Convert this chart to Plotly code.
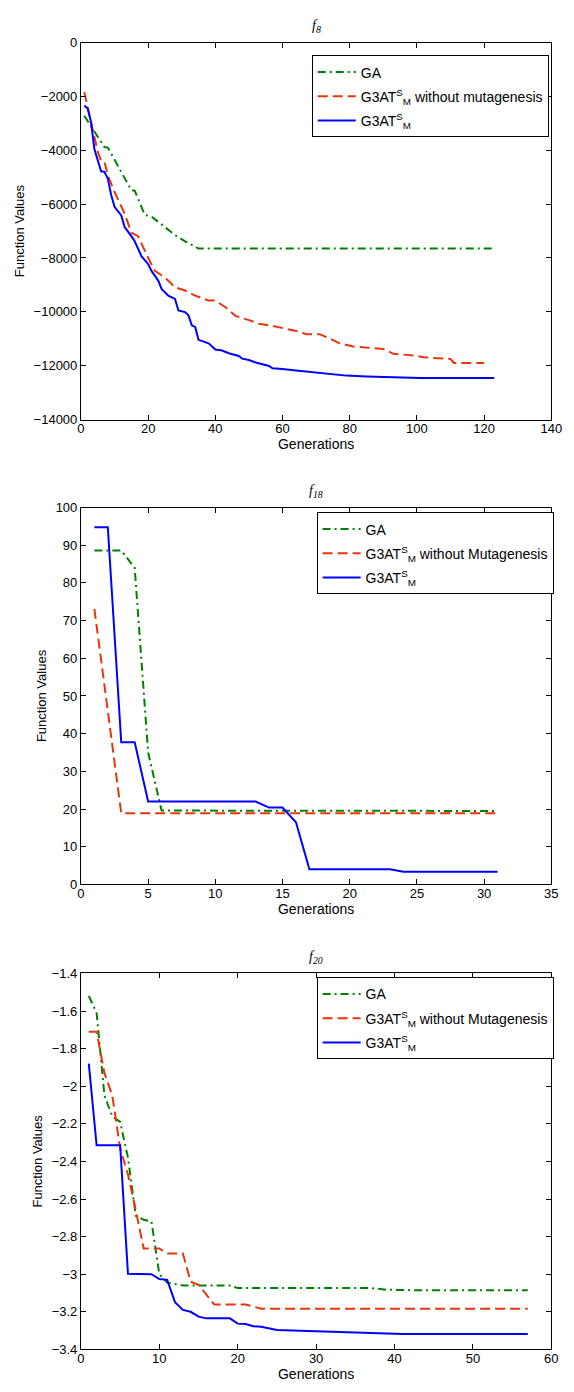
import plotly.graph_objects as go

# ---------------- data ----------------
# f8
f8_ga_x = [1, 7, 8, 15, 16, 19, 21, 24, 28, 31, 35, 123]
f8_ga_y = [-2720, -3880, -3900, -5480, -5500, -6400, -6460, -6760, -7150, -7380, -7650, -7650]

f8_nomut_x = [1, 2, 3, 5, 6, 7, 8, 10, 12, 13, 15, 17, 20, 22, 25, 28, 31, 34, 38, 40, 43, 46, 50,
              53, 57, 62, 65, 67, 71, 74, 77, 81, 90, 93, 99, 102, 107, 110, 111, 120]
f8_nomut_y = [-1840, -2350, -2950, -4050, -4400, -4430, -4930, -5550, -6100, -6350, -7060, -7190,
              -7990, -8480, -8720, -9090, -9210, -9400, -9580, -9580, -9830, -10150, -10310,
              -10440, -10520, -10640, -10740, -10830, -10830, -10990, -11170, -11290, -11380,
              -11560, -11620, -11690, -11710, -11750, -11900, -11900]

f8_g3_x = [1, 2, 3, 4, 5, 6, 7, 8, 9, 10, 12, 13, 15, 16, 18, 20, 21, 23, 24, 26, 28, 29, 31, 32,
           33, 34, 35, 37, 38, 40, 42, 44, 47, 48, 50, 52, 54, 56, 57, 60, 64, 69, 74, 79, 85,
           93, 101, 123]
f8_g3_y = [-2340, -2450, -2950, -3950, -4370, -4780, -4800, -5050, -5660, -6100, -6420, -6850,
           -7190, -7380, -7930, -8230, -8480, -8840, -9150, -9400, -9520, -9950, -10010, -10130,
           -10500, -10560, -11040, -11110, -11170, -11400, -11440, -11540, -11640, -11740,
           -11790, -11880, -11940, -12010, -12100, -12120, -12180, -12240, -12300, -12370,
           -12400, -12430, -12460, -12460]

# f18
f18_ga_x = [1, 2, 3, 4, 5, 6, 31]
f18_ga_y = [88.6, 88.6, 88.6, 84.0, 35.0, 19.6, 19.5]

f18_nomut_x = [1, 2, 3, 31]
f18_nomut_y = [73.1, 46.0, 18.9, 18.9]

f18_g3_x = [1, 2, 3, 4, 5, 13, 14, 15, 16, 17, 23, 24, 31]
f18_g3_y = [94.8, 94.8, 37.7, 37.7, 22.0, 22.0, 20.4, 20.4, 16.5, 4.0, 4.0, 3.4, 3.4]

# f20
f20_ga_x = [1, 2, 3, 4, 5, 6, 7, 8, 9, 10, 11, 13, 19, 20, 37, 39, 44, 57]
f20_ga_y = [-1.52, -1.61, -2.05, -2.16, -2.19, -2.38, -2.69, -2.71, -2.72, -3.00, -3.045,
            -3.06, -3.06, -3.074, -3.074, -3.083, -3.086, -3.086]

f20_nomut_x = [1, 2, 3, 4, 5, 6, 7, 8, 10, 11, 13, 14, 15, 17, 21, 23, 57]
f20_nomut_y = [-1.71, -1.71, -1.93, -2.05, -2.33, -2.47, -2.66, -2.863, -2.863, -2.89, -2.89,
               -3.04, -3.056, -3.161, -3.161, -3.184, -3.184]

f20_g3_x = [1, 2, 5, 6, 9, 10, 11, 12, 13, 14, 15, 16, 19, 20, 21, 22, 23, 24, 25, 27, 35, 41, 57]
f20_g3_y = [-1.88, -2.314, -2.314, -2.998, -3.0, -3.026, -3.03, -3.149, -3.19, -3.2, -3.226,
            -3.235, -3.235, -3.263, -3.265, -3.277, -3.28, -3.29, -3.297, -3.30, -3.31, -3.318,
            -3.318]

titles = ["f", "f", "f"]
title_subs = ["8", "18", "20"]
name_ga = "GA"
names_nomut = ["G3AT<sup>S</sup><sub>M</sub> without mutagenesis",
               "G3AT<sup>S</sup><sub>M</sub> without Mutagenesis",
               "G3AT<sup>S</sup><sub>M</sub> without Mutagenesis"]
name_g3 = "G3AT<sup>S</sup><sub>M</sub>"

x_ranges = [[0, 140], [0, 35], [0, 60]]
x_dticks = [20, 5, 10]
y_ranges = [[-14000, 0], [0, 100], [-3.4, -1.4]]
y_dticks = [2000, 10, 0.2]
y_formats = ["d", "", ""]

# ---------------- styling ----------------
W, H = 574, 1392
GREEN = "#008000"
RED = "#e8360c"
BLUE = "#0000ff"
FONT = "Liberation Sans"

x_dom = [79 / W, 562 / W]
# pixel top/bottom of each plot box
boxes = [(36, 417), (506, 887), (977, 1357)]
legend_pos = [(316, 49), (321, 511), (321, 981)]

fig = go.Figure()

series = [
    (f8_ga_x, f8_ga_y, f8_nomut_x, f8_nomut_y, f8_g3_x, f8_g3_y),
    (f18_ga_x, f18_ga_y, f18_nomut_x, f18_nomut_y, f18_g3_x, f18_g3_y),
    (f20_ga_x, f20_ga_y, f20_nomut_x, f20_nomut_y, f20_g3_x, f20_g3_y),
]

for i, (gx, gy, rx, ry, bx, by) in enumerate(series):
    k = "" if i == 0 else str(i + 1)
    leg = "legend" + k
    fig.add_trace(go.Scatter(x=gx, y=gy, mode="lines", name=name_ga,
                             line=dict(color=GREEN, width=2, dash="8px,4px,2px,4px"),
                             xaxis="x" + k, yaxis="y" + k, legend=leg,
                             legendgroup="ga" + k))
    fig.add_trace(go.Scatter(x=rx, y=ry, mode="lines", name=names_nomut[i],
                             line=dict(color=RED, width=2, dash="10px,5px"),
                             xaxis="x" + k, yaxis="y" + k, legend=leg,
                             legendgroup="nm" + k))
    fig.add_trace(go.Scatter(x=bx, y=by, mode="lines", name=name_g3,
                             line=dict(color=BLUE, width=2),
                             xaxis="x" + k, yaxis="y" + k, legend=leg,
                             legendgroup="g3" + k))

layout = dict(
    width=W, height=H,
    margin=dict(l=0, r=0, t=0, b=0),
    paper_bgcolor="white", plot_bgcolor="white",
    font=dict(family=FONT, size=13, color="black"),
    showlegend=True,
)

annotations = []
for i in range(3):
    k = "" if i == 0 else str(i + 1)
    top, bot = boxes[i]
    ydom = [1 - bot / H, 1 - top / H]
    axis_common = dict(showline=True, linecolor="black", linewidth=1, mirror="ticks",
                       ticks="inside", ticklen=5, tickcolor="black", showgrid=False,
                       zeroline=False, exponentformat="none",
                       tickfont=dict(family=FONT, size=13, color="black"))
    layout["xaxis" + k] = dict(domain=x_dom, range=x_ranges[i], dtick=x_dticks[i], tick0=0,
                               anchor="y" + k, ticklabelstandoff=-3,
                               title=dict(text="Generations", standoff=0,
                                          font=dict(family=FONT, size=14)),
                               **axis_common)
    layout["yaxis" + k] = dict(domain=ydom, range=y_ranges[i], dtick=y_dticks[i],
                               tick0=y_ranges[i][0], anchor="x" + k,
                               tickformat=y_formats[i],
                               title=dict(text="Function Values", standoff=6,
                                          font=dict(family=FONT, size=13)),
                               **axis_common)
    lx, ly = legend_pos[i]
    layout["legend" + k] = dict(x=lx / W, y=1 - ly / H, xanchor="left", yanchor="top",
                                bgcolor="white", bordercolor="black", borderwidth=1,
                                font=dict(family=FONT, size=14, color="black"),
                                tracegroupgap=3, itemwidth=38)
    annotations.append(dict(
        text="<i>" + titles[i] + "<sub>" + title_subs[i] + "</sub></i>",
        xref="paper", yref="paper", x=(x_dom[0] + x_dom[1]) / 2, y=1 - (top - 6) / H,
        xanchor="center", yanchor="bottom", showarrow=False,
        font=dict(family="Liberation Serif", size=14, color="black")))

layout["annotations"] = annotations
fig.update_layout(**layout)

fig.write_html("out.html")
